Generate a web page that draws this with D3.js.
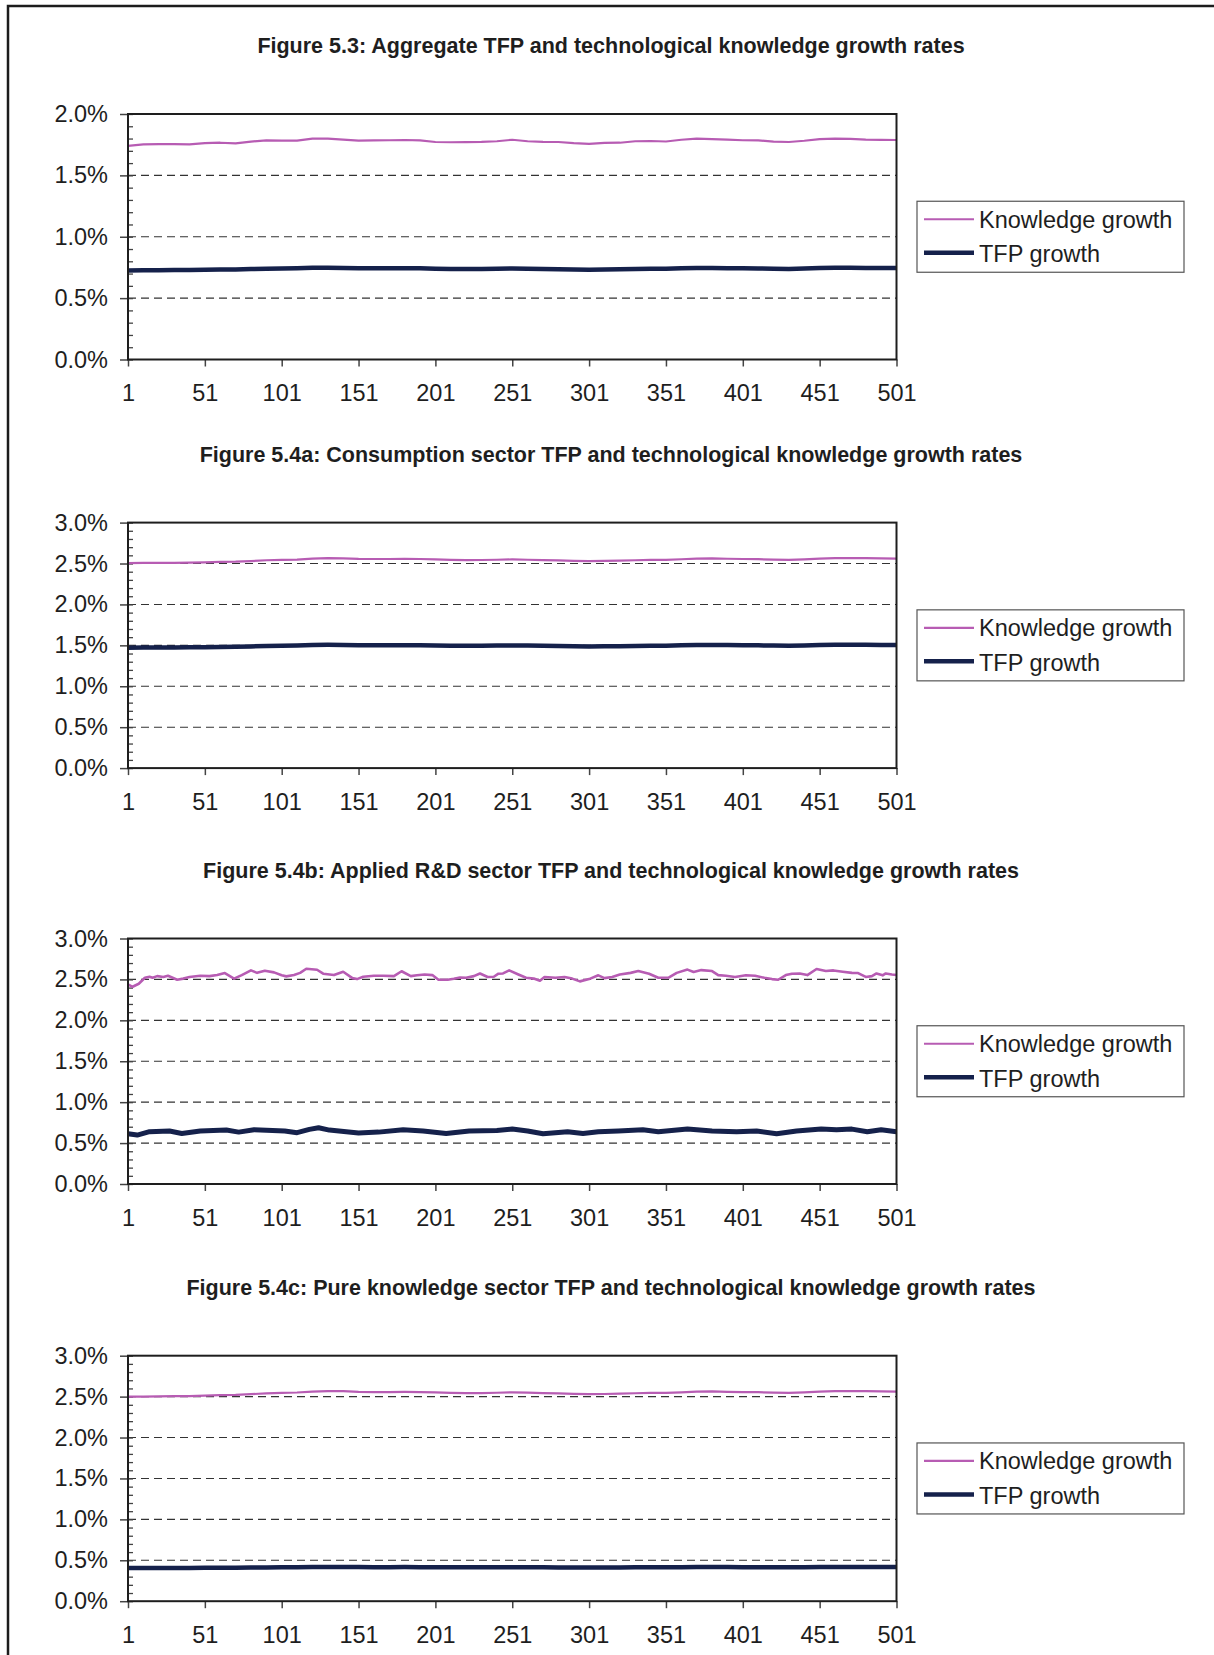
<!DOCTYPE html>
<html><head><meta charset="utf-8">
<script src="https://cdn.jsdelivr.net/npm/d3@7"></script>
<style>
body{margin:0;background:#fff}
svg{display:block}
text{font-family:"Liberation Sans",Arial,Helvetica,sans-serif}
</style>
</head><body>
<svg id="c" width="1214" height="1655"></svg>
<script>
// ---------- DATA ----------
const titles = [
  "Figure 5.3: Aggregate TFP and technological knowledge growth rates",
  "Figure 5.4a: Consumption sector TFP and technological knowledge growth rates",
  "Figure 5.4b: Applied R&D sector TFP and technological knowledge growth rates",
  "Figure 5.4c: Pure knowledge sector TFP and technological knowledge growth rates"
];
const seriesNames = ["Knowledge growth", "TFP growth"];
const xTickLabels = [1, 51, 101, 151, 201, 251, 301, 351, 401, 451, 501];
const yMax = [2.0, 3.0, 3.0, 3.0];

// sample periods (every 10th period) for the smooth series
const smoothPeriods = d3.range(1, 502, 10);

// Figure 5.3 (%)
const aggKnowledge = [1.741,1.752,1.755,1.754,1.752,1.762,1.766,1.760,1.775,1.785,1.783,1.783,1.800,1.800,1.792,1.783,1.785,1.786,1.788,1.785,1.772,1.770,1.771,1.773,1.778,1.790,1.778,1.773,1.772,1.762,1.757,1.764,1.766,1.778,1.780,1.776,1.790,1.800,1.795,1.791,1.786,1.785,1.775,1.772,1.782,1.796,1.800,1.797,1.792,1.790,1.788];
const aggTfp = [0.726,0.727,0.728,0.729,0.730,0.731,0.733,0.734,0.737,0.740,0.741,0.743,0.747,0.748,0.746,0.743,0.743,0.743,0.744,0.743,0.739,0.737,0.737,0.738,0.740,0.742,0.740,0.737,0.736,0.733,0.732,0.733,0.735,0.738,0.740,0.740,0.743,0.746,0.746,0.744,0.743,0.742,0.739,0.738,0.741,0.745,0.747,0.747,0.746,0.745,0.745];

// Figure 5.4a (%)
const consKnowledge = [2.505,2.507,2.508,2.508,2.510,2.515,2.520,2.522,2.530,2.540,2.545,2.548,2.560,2.565,2.562,2.556,2.555,2.555,2.556,2.555,2.550,2.545,2.542,2.543,2.546,2.550,2.546,2.542,2.538,2.533,2.530,2.532,2.535,2.540,2.544,2.545,2.552,2.560,2.562,2.558,2.555,2.553,2.547,2.544,2.550,2.560,2.566,2.567,2.565,2.562,2.560];
const consTfp = [1.472,1.473,1.474,1.475,1.476,1.478,1.481,1.483,1.487,1.492,1.495,1.497,1.503,1.506,1.505,1.502,1.501,1.501,1.502,1.501,1.498,1.495,1.494,1.495,1.497,1.499,1.497,1.494,1.492,1.489,1.487,1.488,1.490,1.493,1.495,1.496,1.500,1.504,1.505,1.503,1.501,1.500,1.497,1.496,1.499,1.504,1.507,1.508,1.507,1.505,1.504];

// Figure 5.4b (%), read at irregular periods
const appKnowPeriods = [1,4,8,12,15,17,20,24,27,33,37,41,48,54,59,64,70,75,81,85,90,96,101,104,109,113,117,124,128,135,141,147,150,154,161,167,174,179,185,189,194,199,203,209,213,217,221,226,230,235,239,242,245,249,255,260,265,269,272,279,285,290,295,301,307,311,316,321,328,333,340,346,353,358,365,369,374,381,385,390,396,403,409,415,420,424,429,433,438,443,449,455,460,466,472,476,481,485,488,492,494,498,501];
const appKnowledge = [2.44,2.41,2.447,2.52,2.533,2.52,2.54,2.53,2.545,2.496,2.51,2.53,2.545,2.54,2.553,2.578,2.51,2.553,2.61,2.58,2.606,2.586,2.55,2.537,2.553,2.58,2.63,2.618,2.57,2.553,2.594,2.516,2.504,2.533,2.545,2.545,2.54,2.60,2.54,2.55,2.56,2.553,2.496,2.496,2.508,2.524,2.52,2.54,2.573,2.53,2.533,2.57,2.573,2.61,2.56,2.52,2.51,2.484,2.53,2.52,2.53,2.51,2.476,2.504,2.55,2.516,2.53,2.56,2.58,2.602,2.57,2.52,2.524,2.58,2.62,2.59,2.614,2.602,2.553,2.545,2.53,2.55,2.545,2.52,2.504,2.496,2.553,2.57,2.573,2.553,2.627,2.602,2.61,2.594,2.58,2.578,2.53,2.54,2.573,2.55,2.573,2.56,2.553];
const appTfpPeriods = [1,7,15,28,36,48,65,73,83,103,111,119,125,132,143,151,164,180,193,208,223,241,251,261,271,287,297,307,320,336,346,365,381,397,410,423,436,452,462,472,482,491,501];
const appTfp = [0.614,0.598,0.639,0.647,0.618,0.647,0.659,0.634,0.663,0.647,0.627,0.667,0.688,0.659,0.639,0.622,0.634,0.663,0.647,0.618,0.647,0.655,0.671,0.647,0.614,0.639,0.618,0.639,0.647,0.663,0.639,0.671,0.647,0.639,0.647,0.614,0.647,0.671,0.663,0.671,0.639,0.663,0.639];

// Figure 5.4c (%)
const pureKnowledge = [2.500,2.500,2.503,2.505,2.507,2.512,2.518,2.521,2.530,2.540,2.546,2.550,2.562,2.568,2.566,2.558,2.556,2.556,2.557,2.556,2.551,2.545,2.542,2.543,2.547,2.552,2.548,2.543,2.539,2.534,2.530,2.532,2.536,2.541,2.545,2.546,2.553,2.561,2.564,2.559,2.556,2.554,2.548,2.545,2.551,2.560,2.566,2.568,2.566,2.563,2.561];
const pureTfp = [0.405,0.405,0.406,0.406,0.407,0.408,0.409,0.410,0.411,0.413,0.414,0.415,0.417,0.418,0.418,0.417,0.416,0.416,0.417,0.416,0.415,0.414,0.414,0.414,0.415,0.416,0.415,0.414,0.413,0.412,0.411,0.412,0.413,0.414,0.415,0.415,0.416,0.418,0.418,0.417,0.416,0.416,0.415,0.414,0.415,0.417,0.418,0.419,0.418,0.418,0.418];

// ---------- BUILD ----------
const zip = (ps, vs) => ps.map((p, i) => ({p, v: vs[i]}));
const panels = [
  {title: titles[0], ymax: yMax[0], know: zip(smoothPeriods, aggKnowledge), tfp: zip(smoothPeriods, aggTfp)},
  {title: titles[1], ymax: yMax[1], know: zip(smoothPeriods, consKnowledge), tfp: zip(smoothPeriods, consTfp)},
  {title: titles[2], ymax: yMax[2], know: zip(appKnowPeriods, appKnowledge), tfp: zip(appTfpPeriods, appTfp)},
  {title: titles[3], ymax: yMax[3], know: zip(smoothPeriods, pureKnowledge), tfp: zip(smoothPeriods, pureTfp)}
];

const KNOW_COLOR = "#b75cb3";
const TFP_COLOR = "#15214b";
const INK = "#1e1e1e";
const FONT = '"Liberation Sans",Arial,sans-serif';
const LABEL_SIZE = 23.5;

const svg = d3.select("#c");
// outer frame (only top/left visible in the crop)
svg.append("rect").attr("x", 8).attr("y", 6).attr("width", 1400).attr("height", 1800)
  .attr("fill", "none").attr("stroke", "#1c1c1c").attr("stroke-width", 2.5);

const plotTops = [114, 522.6, 938.5, 1355.7];
const plotH = 245.5;
const left = 128, right = 896.5;

panels.forEach((p, i) => {
  const top = plotTops[i], bottom = top + plotH;
  const x = d3.scaleLinear().domain([1, 501]).range([left, right]);
  const y = d3.scaleLinear().domain([0, p.ymax]).range([bottom, top]);
  const g = svg.append("g");

  g.append("text")
    .attr("x", 611).attr("y", top - 61)
    .attr("text-anchor", "middle")
    .attr("font-weight", "bold").attr("font-size", 21.5)
    .attr("fill", INK).text(p.title);

  const majors = d3.range(0, p.ymax + 1e-9, 0.5);
  const minors = d3.range(0, Math.round(p.ymax * 10) + 1).map(k => k / 10);

  // dashed gridlines
  g.append("g").selectAll("line")
    .data(majors.filter(v => v > 0 && v < p.ymax - 1e-9))
    .join("line")
    .attr("x1", left).attr("x2", right)
    .attr("y1", d => y(d)).attr("y2", d => y(d))
    .attr("stroke", "#333").attr("stroke-width", 1.1)
    .attr("stroke-dasharray", "8,5");

  // y axis (major ticks outside, labels)
  const ya = g.append("g").attr("transform", `translate(${left},0)`)
    .call(d3.axisLeft(y).tickValues(majors).tickFormat(d => d.toFixed(1) + "%")
      .tickSize(8).tickPadding(12));
  ya.select(".domain").remove();
  ya.selectAll("line").attr("stroke", "#444").attr("stroke-width", 1.5);
  ya.selectAll("text").attr("font-size", LABEL_SIZE).attr("fill", INK).attr("font-family", FONT);

  // minor ticks inside
  const ym = g.append("g").attr("transform", `translate(${left},0)`)
    .call(d3.axisRight(y).tickValues(minors).tickFormat("").tickSize(5));
  ym.select(".domain").remove();
  ym.selectAll("line").attr("stroke", "#444").attr("stroke-width", 1.3);

  // x axis
  const xa = g.append("g").attr("transform", `translate(0,${bottom})`)
    .call(d3.axisBottom(x).tickValues(xTickLabels).tickFormat(d3.format("d"))
      .tickSize(7).tickPadding(18));
  xa.select(".domain").remove();
  xa.selectAll("line").attr("stroke", "#444").attr("stroke-width", 1.5);
  xa.selectAll("text").attr("font-size", LABEL_SIZE).attr("fill", INK).attr("font-family", FONT);

  // lines
  const line = d3.line().x(d => x(d.p)).y(d => y(d.v));
  g.append("path").datum(p.tfp).attr("d", line)
    .attr("fill", "none").attr("stroke", TFP_COLOR).attr("stroke-width", i === 2 ? 5 : 4.5)
    .attr("stroke-linejoin", "round");
  g.append("path").datum(p.know).attr("d", line)
    .attr("fill", "none").attr("stroke", KNOW_COLOR).attr("stroke-width", i === 2 ? 2.6 : 2.2)
    .attr("stroke-linejoin", "round");

  // plot frame
  g.append("rect").attr("x", left).attr("y", top)
    .attr("width", right - left).attr("height", plotH)
    .attr("fill", "none").attr("stroke", INK).attr("stroke-width", 2);

  // legend
  const lg = g.append("g").attr("transform", `translate(917,${(top + bottom) / 2 - 35.5})`);
  lg.append("rect").attr("width", 267).attr("height", 71)
    .attr("fill", "#fff").attr("stroke", "#555").attr("stroke-width", 1.2);
  const items = [
    {name: seriesNames[0], color: KNOW_COLOR, w: 2.2, ly: 18, ty: 26.5},
    {name: seriesNames[1], color: TFP_COLOR, w: 4.5, ly: 51.5, ty: 61}
  ];
  items.forEach(it => {
    lg.append("line").attr("x1", 7).attr("x2", 57).attr("y1", it.ly).attr("y2", it.ly)
      .attr("stroke", it.color).attr("stroke-width", it.w);
    lg.append("text").attr("x", 62).attr("y", it.ty)
      .attr("font-size", LABEL_SIZE).attr("fill", INK).text(it.name);
  });
});
</script>
</body></html>
